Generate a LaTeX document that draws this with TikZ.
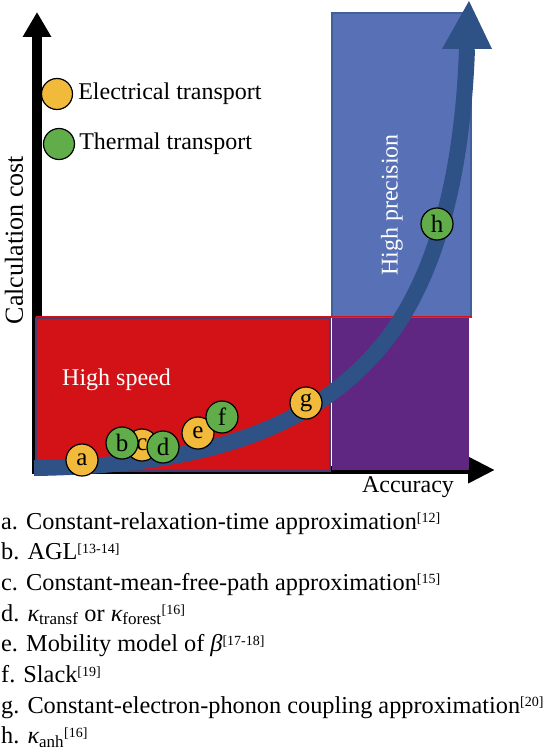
\documentclass[tikz,border=0pt]{standalone}
\usepackage{fontspec}
\setmainfont{Liberation Serif}
\usetikzlibrary{arrows.meta,positioning}

\definecolor{speedred}{HTML}{D31218}
\definecolor{speededge}{HTML}{4B3A6B}
\definecolor{bothpurple}{HTML}{5F2782}
\definecolor{precblue}{HTML}{5870B6}
\definecolor{precedge}{HTML}{40609A}
\definecolor{trendblue}{HTML}{2E5186}
\definecolor{elecorange}{HTML}{F2BA3B}
\definecolor{thermgreen}{HTML}{60AD4A}

\newcommand\refmark[1]{\raisebox{6.5pt}{\fontsize{14}{14}\selectfont[#1]}}

\begin{document}
\begin{tikzpicture}[x=1pt,y=-1pt,
    lbl/.style={font=\fontsize{24}{28}\selectfont, inner sep=0pt},
    item/.style={font=\fontsize{24.3}{28}\selectfont, inner sep=0pt, anchor=base west},
    dot/.style={draw, circle, line width=1.2pt, minimum size=32pt, inner sep=0pt,
      font=\fontsize{25}{29}\selectfont},
    elec/.style={dot, fill=elecorange},
    therm/.style={dot, fill=thermgreen}]
  \useasboundingbox (0,0) rectangle (544,754);

  % Axes
  \coordinate (ybase) at (37,473);
  \coordinate (ytip) at (37,12);
  \coordinate (xbase) at (32,470);
  \coordinate (xtip) at (495,470);
  \draw[line width=10pt, -{Triangle[width=27pt,length=25pt]}] (ybase) -- (ytip);
  \draw[line width=8pt, -{Triangle[width=25pt,length=27pt]}] (xbase) -- (xtip);

  % Regions
  \filldraw[fill=speedred, draw=speededge, line width=1.5pt] (36,318) rectangle (330,471);
  \fill[bothpurple] (332,317) rectangle (469,470);
  \filldraw[fill=precblue, draw=precedge, line width=1.2pt] (332,13) rectangle (471,317);
  \draw[speedred, line width=1pt] (36,316) -- (472,316);

  % Trend arrow
  \draw[line width=16pt, trendblue] (34,468) .. controls (180,466) and (300,440) .. (378,350)
    .. controls (430,290) and (462,190) .. (467,49);
  \fill[trendblue] (442,49) -- (469,1) -- (492,49) -- cycle;

  % Region and axis labels
  \node[lbl, white, anchor=west] (speed) at (62,380) {High speed};
  \node[lbl, white, rotate=90] (precision) at (392,205) {High precision};
  \node[lbl, font=\fontsize{26}{30}\selectfont, rotate=90] (cost) at (14,240) {Calculation cost};
  \node[lbl] (accuracy) at (408,487) {Accuracy};

  % Legend
  \node[elec, minimum size=31pt] (elecdot) at (57,94) {};
  \node[lbl, right=5pt of elecdot] (electext) {Electrical transport};
  \node[therm, minimum size=31pt] (thermdot) at (59,144) {};
  \node[lbl, right=4pt of thermdot] (thermtext) {Thermal transport};

  % Methods
  \node[elec] (a) at (82,460) {a};
  \node[elec] (c) at (142,445) {c};
  \node[therm] (b) at (122,443) {b};
  \node[therm] (d) at (163,447) {d};
  \node[elec] (e) at (198,433) {e};
  \node[therm] (f) at (222,417) {f};
  \node[elec] (g) at (306,403) {g};
  \node[therm] (h) at (437,224) {h};

  % Key
  \foreach \t [count=\i from 0] in {
      a. Constant-relaxation-time approximation\refmark{12},
      b. AGL\refmark{13-14},
      c. Constant-mean-free-path approximation\refmark{15},
      d. {\itshape κ}\textsubscript{transf} or {\itshape κ}\textsubscript{forest}\refmark{16},
      e. Mobility model of {\itshape β}\refmark{17-18},
      f. Slack\refmark{19},
      g. Constant-electron-phonon coupling approximation\refmark{20},
      h. {\itshape κ}\textsubscript{anh}\refmark{16}}
    \node[item] (item\i) at (1,{529+30.7*\i}) {\t};
\end{tikzpicture}
\end{document}
